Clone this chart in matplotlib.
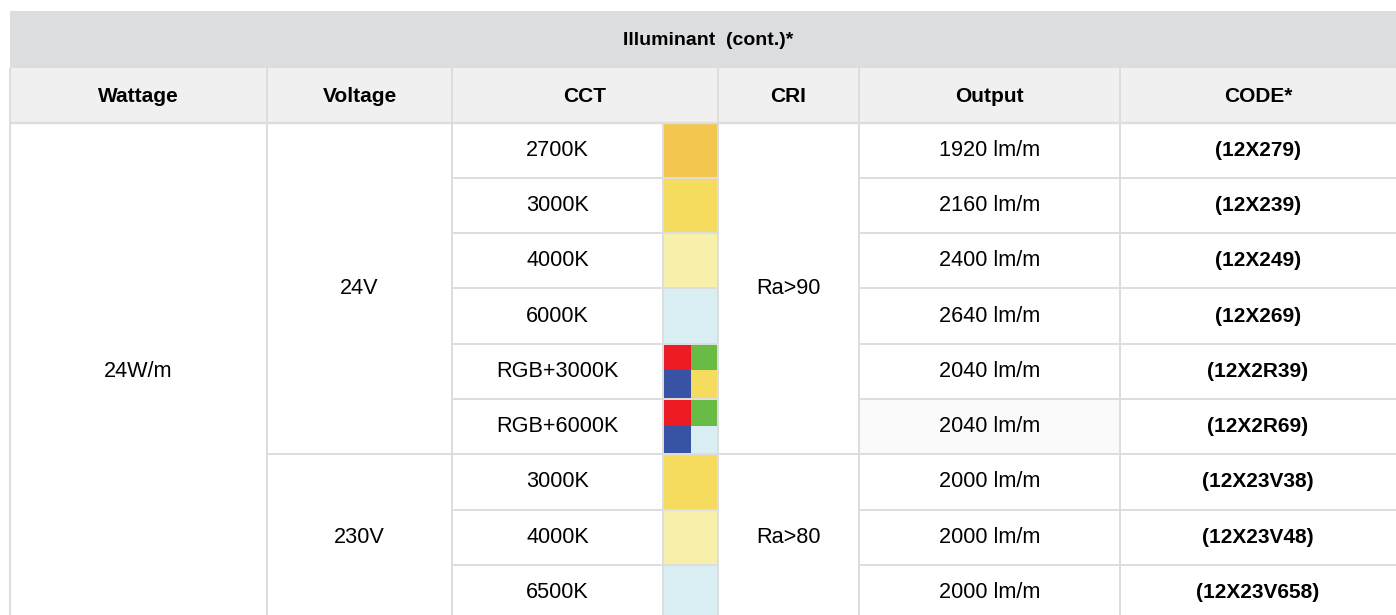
import matplotlib
matplotlib.use("Agg")
import matplotlib.pyplot as plt
from matplotlib.patches import Rectangle

# ---------------- data ----------------
title = "Illuminant  (cont.)*"
headers = ["Wattage", "Voltage", "CCT", "CRI", "Output", "CODE*"]
wattage = "24W/m"
voltage_labels = ["24V", "230V"]
voltage_spans = [6, 3]
cri_labels = ["Ra>90", "Ra>80"]
cri_spans = [6, 3]
cct_labels = ["2700K", "3000K", "4000K", "6000K", "RGB+3000K", "RGB+6000K",
              "3000K", "4000K", "6500K"]
swatch_base = ["#F3C64F", "#F5DC5F", "#F7F0AA", "#D9EEF3", "#F5DC5F", "#D9EEF3",
               "#F5DC5F", "#F7F0AA", "#D9EEF3"]
swatch_rgb = [False, False, False, False, True, True, False, False, False]
rgb_colors = ["#ED1C24", "#68BC45", "#3853A4"]  # red, green, blue
outputs = ["1920 lm/m", "2160 lm/m", "2400 lm/m", "2640 lm/m", "2040 lm/m",
           "2040 lm/m", "2000 lm/m", "2000 lm/m", "2000 lm/m"]
codes = ["(12X279)", "(12X239)", "(12X249)", "(12X269)", "(12X2R39)",
         "(12X2R69)", "(12X23V38)", "(12X23V48)", "(12X23V658)"]

# ---------------- layout ----------------
W, H = 1396, 615
xe = [10, 267, 452, 663, 718, 859, 1120, 1396]
y_title0, y_title1 = 11, 68
y_head1 = 122.5
rh = 55.3
n = len(cct_labels)
grid_c = "#DDDDDD"
lw = 2.0 * 0.72
FONT = "Liberation Sans"

fig = plt.figure(figsize=(W / 100, H / 100), dpi=100)
ax = fig.add_axes([0, 0, 1, 1])
ax.set_xlim(0, W)
ax.set_ylim(H, 0)
ax.axis("off")

def rect(x0, y0, x1, y1, color, z=1):
    ax.add_patch(Rectangle((x0, y0), x1 - x0, y1 - y0, facecolor=color,
                           edgecolor="none", zorder=z))

def hline(y, x0, x1, w=lw, c=grid_c):
    ax.plot([x0, x1], [y, y], color=c, lw=w, zorder=5, solid_capstyle="butt")

def vline(x, y0, y1, w=lw, c=grid_c):
    ax.plot([x, x], [y0, y1], color=c, lw=w, zorder=5, solid_capstyle="butt")

def txt(x, y, s, bold=False, fs=None):
    if fs is None:
        fs = 15 if bold else 15.6
    ax.text(x, y, s, ha="center", va="center", fontsize=fs, family=FONT,
            fontweight="bold" if bold else "normal", color="#000000", zorder=6)

# title band
rect(xe[0], y_title0, W, y_title1, "#DCDDDF")
txt((xe[0] + W) / 2 + 5, (y_title0 + y_title1) / 2 + 1, title, bold=True, fs=14)

# header row
rect(xe[0], y_title1, W, y_head1, "#F0F0F0")
hcols = [(xe[0], xe[1]), (xe[1], xe[2]), (xe[2], xe[4]), (xe[4], xe[5]),
         (xe[5], xe[6]), (xe[6], xe[7])]
for (a, b), h in zip(hcols, headers):
    txt((a + b) / 2, (y_title1 + y_head1) / 2 + 1, h, bold=True)
for x in [xe[1], xe[2], xe[4], xe[5], xe[6]]:
    vline(x, y_title1, y_head1)
vline(xe[0], y_title1, H)
hline(y_head1, xe[0], W, w=2.4 * 0.72)

def row_y(i):
    return y_head1 + i * rh

# body rows
for i in range(n):
    y0, y1 = row_y(i), row_y(i + 1)
    yc = (y0 + y1) / 2
    if i == 5:
        rect(xe[5], y0, xe[6], y1, "#FAFAFA", z=0.5)
    # swatch
    if swatch_rgb[i]:
        xm = (xe[3] + xe[4]) / 2
        ym = y0 + (y1 - y0) * 0.48
        rect(xe[3], y0, xm, ym, rgb_colors[0])
        rect(xm, y0, xe[4], ym, rgb_colors[1])
        rect(xe[3], ym, xm, y1, rgb_colors[2])
        rect(xm, ym, xe[4], y1, swatch_base[i])
    else:
        rect(xe[3], y0, xe[4], y1, swatch_base[i])
    txt((xe[2] + xe[3]) / 2, yc, cct_labels[i])
    txt((xe[5] + xe[6]) / 2, yc, outputs[i])
    txt((xe[6] + xe[7]) / 2, yc, codes[i], bold=True)
    if i > 0:
        hline(y0, xe[2], xe[4])
        hline(y0, xe[5], W)

# merged cells
txt((xe[0] + xe[1]) / 2, (row_y(0) + row_y(n)) / 2, wattage)
start = 0
for lab, span in zip(voltage_labels, voltage_spans):
    yc = (row_y(start) + row_y(start + span)) / 2
    txt((xe[1] + xe[2]) / 2, yc, lab)
    if start > 0:
        hline(row_y(start), xe[1], xe[2])
    start += span
start = 0
for lab, span in zip(cri_labels, cri_spans):
    yc = (row_y(start) + row_y(start + span)) / 2
    txt((xe[4] + xe[5]) / 2, yc, lab)
    if start > 0:
        hline(row_y(start), xe[4], xe[5])
    start += span

for x in [xe[1], xe[2], xe[3], xe[4], xe[5], xe[6]]:
    vline(x, y_head1, H)

fig.savefig("out.png", dpi=100, facecolor="white")
